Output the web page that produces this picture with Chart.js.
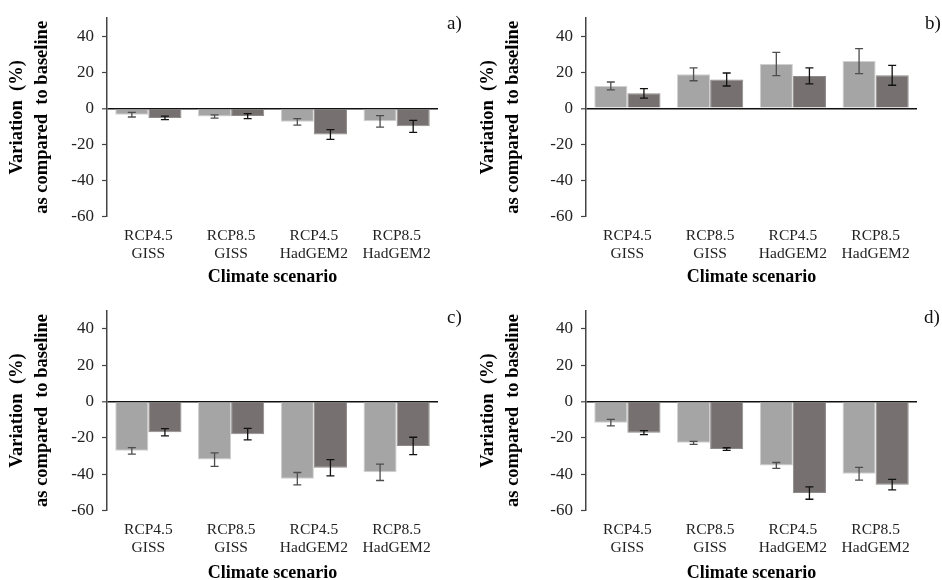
<!DOCTYPE html>
<html><head><meta charset="utf-8">
<script src="https://cdn.jsdelivr.net/npm/chart.js@4.4.1/dist/chart.umd.min.js"></script>
<style>
html,body{margin:0;padding:0;background:#fff;overflow:hidden;width:942px;height:580px;position:relative;}
canvas{position:absolute;}
.lbl{position:absolute;font-family:"Liberation Serif",serif;font-size:19px;color:#111;line-height:1;}
</style></head><body>
<canvas id="ca" width="471" height="290" style="left:0;top:0"></canvas>
<canvas id="cb" width="471" height="290" style="left:471px;top:0"></canvas>
<canvas id="cc" width="471" height="296" style="left:0;top:290px"></canvas>
<canvas id="cd" width="471" height="296" style="left:471px;top:290px"></canvas>
<div class="lbl" style="left:447px;top:13px">a)</div>
<div class="lbl" style="left:925px;top:13px">b)</div>
<div class="lbl" style="left:447px;top:307px">c)</div>
<div class="lbl" style="left:924px;top:307px">d)</div>
<script>
// ---- data ----
const categories = [['RCP4.5','GISS'],['RCP8.5','GISS'],['RCP4.5','HadGEM2'],['RCP8.5','HadGEM2']];
const yTicks = [-60,-40,-20,0,20,40];
const yMin = -60, yMax = 50;
const xTitle = 'Climate scenario';
const yTitle = ['Variation  (%)', 'as compared  to baseline'];

const aLight = [-3.5, -4.5, -7.5, -7.2];
const aLightErr = [1.3, 0.9, 1.8, 3.2];
const aDark = [-5.3, -4.3, -14.5, -10.0];
const aDarkErr = [1.0, 1.4, 2.7, 3.3];

const bLight = [12.4, 18.9, 24.6, 26.2];
const bLightErr = [2.2, 3.6, 6.4, 6.9];
const bDark = [8.3, 16.0, 18.0, 18.3];
const bDarkErr = [2.6, 3.6, 4.4, 5.5];

const cLight = [-27.2, -32.0, -42.5, -39.0];
const cLightErr = [1.8, 3.7, 3.4, 4.5];
const cDark = [-17.0, -18.0, -36.5, -24.5];
const cDarkErr = [2.0, 3.2, 4.5, 4.8];

const dLight = [-11.7, -22.8, -35.2, -39.8];
const dLightErr = [1.8, 0.8, 1.6, 3.5];
const dDark = [-17.2, -26.2, -50.4, -45.8];
const dDarkErr = [1.1, 0.7, 3.4, 2.9];

// ---- error bar plugin ----
const errorBars = {
  id: 'errorBars',
  afterDatasetsDraw(chart) {
    const ctx = chart.ctx, y = chart.scales.y;
    chart.data.datasets.forEach((ds, i) => {
      const meta = chart.getDatasetMeta(i);
      meta.data.forEach((bar, j) => {
        const v = ds.data[j], e = ds.errors[j];
        const t = y.getPixelForValue(v + e), b = y.getPixelForValue(v - e);
        ctx.save();
        ctx.strokeStyle = ds.errorColor;
        ctx.lineWidth = 1.3;
        ctx.beginPath();
        ctx.moveTo(bar.x, t); ctx.lineTo(bar.x, b);
        ctx.moveTo(bar.x - 4, t); ctx.lineTo(bar.x + 4, t);
        ctx.moveTo(bar.x - 4, b); ctx.lineTo(bar.x + 4, b);
        ctx.stroke();
        ctx.restore();
      });
    });
  }
};

const FONT = '"Liberation Serif", "Times New Roman", serif';

function makeChart(id, light, lightErr, dark, darkErr, g) {
  return new Chart(document.getElementById(id), {
    type: 'bar',
    data: {
      labels: categories,
      datasets: [
        { data: light, errors: lightErr, errorColor: '#4d4d4d',
          backgroundColor: '#a5a5a5', borderColor: '#d0d0d0', borderWidth: 1 },
        { data: dark, errors: darkErr, errorColor: '#111111',
          backgroundColor: '#767170', borderColor: '#8e8a89', borderWidth: 1 }
      ]
    },
    options: {
      responsive: false,
      animation: false,
      events: [],
      layout: { padding: { left: 0, top: g.top, right: g.right, bottom: 0 } },
      plugins: { legend: { display: false }, tooltip: { enabled: false } },
      datasets: { bar: { categoryPercentage: 0.8, barPercentage: 1.0 } },
      scales: {
        x: {
          grid: { display: false, drawTicks: false },
          border: { display: false },
          ticks: { color: '#222', font: { family: FONT, size: 15.5, lineHeight: 1.17 }, padding: 10, maxRotation: 0, autoSkip: false },
          title: { display: true, text: xTitle, color: '#000',
                   font: { family: FONT, size: 18, weight: 'bold', lineHeight: 1.2 },
                   padding: { top: 0, bottom: 2 } },
          afterFit: s => { s.height = g.xh; }
        },
        y: {
          min: yMin, max: yMax,
          afterBuildTicks: s => { s.ticks = yTicks.map(v => ({ value: v })); },
          grid: {
            color: c => (c.tick && c.tick.value === 0) ? '#111' : 'rgba(0,0,0,0)',
            lineWidth: c => (c.tick && c.tick.value === 0) ? 1.6 : 1,
            tickColor: '#444', tickWidth: 1.2, tickLength: 5, drawTicks: true
          },
          border: { display: true, color: '#444', width: 1.5 },
          ticks: { color: '#222', font: { family: FONT, size: 17 }, padding: 8 },
          title: { display: true, text: yTitle, color: '#000',
                   font: { family: FONT, size: 18.5, weight: 'bold', lineHeight: 1.33 },
                   padding: { top: 5, bottom: 0 } },
          afterFit: s => { s.width = g.yw; }
        }
      }
    },
    plugins: [errorBars]
  });
}

makeChart('ca', aLight, aLightErr, aDark, aDarkErr, { top: 15, right: 33, xh: 73.5, yw: 107 });
makeChart('cb', bLight, bLightErr, bDark, bDarkErr, { top: 15, right: 25, xh: 73.5, yw: 115 });
makeChart('cc', cLight, cLightErr, cDark, cDarkErr, { top: 20.5, right: 33, xh: 75.5, yw: 107 });
makeChart('cd', dLight, dLightErr, dDark, dDarkErr, { top: 20.5, right: 25, xh: 75.5, yw: 115 });
</script>
</body></html>
